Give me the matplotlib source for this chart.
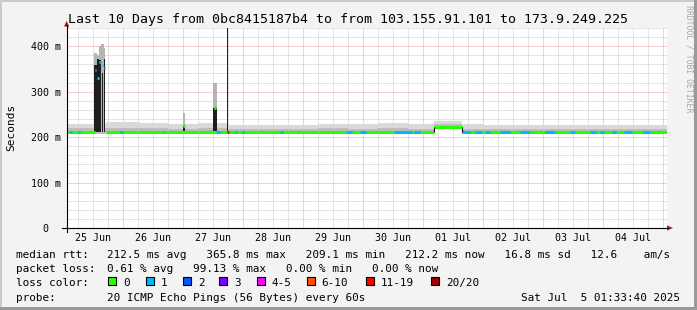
import matplotlib
matplotlib.use("Agg")
import matplotlib.pyplot as plt
from matplotlib.patches import Rectangle, Polygon
from matplotlib.lines import Line2D

W, H = 697, 310
FONT = "DejaVu Sans Mono"
NAN = float("nan")

# time axis: hours since 25 Jun 00:00
START_H = 1.5611    # Wed Jun 25 01:33:40
END_H = 241.5611    # Sat Jul  5 01:33:40

day_labels = ["25 Jun", "26 Jun", "27 Jun", "28 Jun", "29 Jun",
              "30 Jun", "01 Jul", "02 Jul", "03 Jul", "04 Jul"]
y_tick_values = [0, 100, 200, 300, 400]
y_tick_labels = ["0  ", "100 m", "200 m", "300 m", "400 m"]

# baseline median / smoke (ms), piecewise constant between seg_edges
seg_edges = [1.56, 12.9, 17.2, 30, 42, 54, 66, 78, 90, 102, 114, 126,
             138, 148.6, 159.6, 168, 180, 192, 204, 216, 228, 241.56]
seg_median = [210.5, NAN, 210.5, 210.5, 210.5, 210.5, 210.5, 210.5, 210.5, 210.5,
              210.5, 210.5, 210.5, 223.0, 210.5, 210.5, 210.5, 210.5, 210.5, 210.5, 210.5]
seg_lo = [206, 206, 206, 206, 206, 206, 206, 206, 206, 206,
          206, 206, 206, 219, 206, 206, 206, 206, 206, 206, 206]
seg_mid = [219, 219, 220, 219, 218, 219, 218, 217, 218, 219,
           218, 219, 218, 228, 218, 217, 218, 217, 218, 217, 218]
seg_hi = [229, 229, 233, 231, 228, 230, 227, 226, 227, 229,
          228, 230, 228, 236, 228, 226, 227, 226, 227, 226, 227]

# periods with 1/20 packet loss (hours)
loss1_start = [2.9, 6.1, 22.9, 40.1, 61.3, 68.9, 71.7, 86.9, 113.3, 118.9, 132.5,
               140.5, 159.7, 164.9, 168.9, 174.9, 182.9, 192.9, 202.9, 210.9,
               214.9, 219.7, 224.5, 232.3]
loss1_end = [3.7, 6.9, 24.1, 40.7, 62.9, 69.7, 72.5, 88.1, 115.7, 121.3, 139.7,
             142.9, 162.9, 167.7, 170.9, 178.9, 186.9, 196.9, 204.9, 213.3,
             216.5, 221.3, 227.7, 235.1]

# short latency spikes
spike_hour = [13.1, 14.2, 15.0, 15.9, 16.7, 48.5, 61.0, 66.1]
spike_width = [1.0, 0.9, 0.9, 0.9, 0.8, 0.6, 1.6, 0.4]
spike_dark_width = [1.0, 0.8, 0.6, 0.3, 0.5, 0.5, 1.4, 0.4]
spike_median = [347, 330, 365, 358, 352, 224, 264, 211]
spike_dark_top = [358, 372, 370, 340, 372, 224, 264, 480]
spike_smoke_top = [385, 380, 400, 405, 395, 253, 318, 215]
spike_loss = [1, 1, 1, 1, 1, 0, 0, 6]

loss_labels = ["0", "1", "2", "3", "4-5", "6-10", "11-19", "20/20"]
loss_colors = ["#26ff00", "#00b8ff", "#0059ff", "#7e00ff",
               "#ff00ff", "#ff5500", "#ff0000", "#a10000"]


def fx(x):
    return x / W


def fy(y):
    return 1 - y / H


fig = plt.figure(figsize=(W / 100, H / 100), dpi=100, facecolor="#f3f3f3")

# rrdtool style frame
frame = [((0, fy(2)), 1, 2 / H, "#cbcbcb"),
         ((0, 0), fx(2), 1, "#cbcbcb"),
         ((0, 0), 1, 3 / H, "#999999"),
         ((fx(694), 0), 3 / W, 1, "#999999")]
for xy, w, h, c in frame:
    fig.add_artist(Rectangle(xy, w, h, transform=fig.transFigure, color=c, lw=0, zorder=-5))

ax = fig.add_axes([fx(66.6), 1 - 228 / H, 600 / W, 200 / H])
ax.set_facecolor("white")
ax.set_xlim(START_H, END_H)
ax.set_ylim(0, 440)
for s in ax.spines.values():
    s.set_visible(False)

# grid
minor_kw = dict(color="#c8c8c8", lw=0.72, ls=(0, (1, 1)), zorder=1)
major_kw = dict(color="#f5a0a0", lw=0.72, ls=(0, (1, 1)), zorder=1)
for h in range(6, 242, 6):
    ax.axvline(h, **(major_kw if h % 24 == 0 else minor_kw))
for v in range(20, 441, 20):
    ax.axhline(v, **(major_kw if v % 100 == 0 else minor_kw))

# baseline smoke
ax.fill_between(seg_edges, seg_lo + seg_lo[-1:], seg_hi + seg_hi[-1:], step="post",
                color="#d9d9d9", lw=0, zorder=2)
ax.fill_between(seg_edges, seg_lo + seg_lo[-1:], seg_mid + seg_mid[-1:], step="post",
                color="#bdbdbd", lw=0, zorder=2)

# spikes
for h, w, dw, dtop, stop in zip(spike_hour, spike_width, spike_dark_width,
                                spike_dark_top, spike_smoke_top):
    ax.bar(h, stop - 215, bottom=215, width=w, color="#b4b4b4", lw=0, zorder=3)
    if dw > 0:
        ax.bar(h, dtop - 211, bottom=211, width=dw, color="#1e1e1e", lw=0, zorder=4)

# median line, coloured by loss
ax.hlines(seg_median, seg_edges[:-1], seg_edges[1:], colors=loss_colors[0], lw=2.2, zorder=5)
ax.vlines([seg_edges[13], seg_edges[14]], 210.5, 223, colors="black", lw=0.8, zorder=6)
for a, b in zip(loss1_start, loss1_end):
    i = max(i for i, e in enumerate(seg_edges[:-1]) if e <= a)
    ax.hlines(seg_median[i], a, b, colors=loss_colors[1], lw=2.2, zorder=5)
for h, w, med, ls in zip(spike_hour, spike_width, spike_median, spike_loss):
    ax.hlines(med, h - 0.3, h + 0.3, colors=loss_colors[ls], lw=2.2, zorder=6)

# ticks and labels
ax.set_xticks([12 + 24 * i for i in range(len(day_labels))])
ax.set_xticklabels(day_labels, fontfamily=FONT, fontsize=7.2)
ax.set_yticks(y_tick_values)
ax.set_yticklabels(y_tick_labels, fontfamily=FONT, fontsize=7.2)
ax.tick_params(axis="x", length=0, pad=3.6)
ax.tick_params(axis="y", length=0, pad=4.3)

# axes with arrows
fig.add_artist(Line2D([fx(62), fx(668)], [fy(228), fy(228)], transform=fig.transFigure, color="black", lw=0.8))
fig.add_artist(Line2D([fx(66.6), fx(66.6)], [fy(232), fy(25)], transform=fig.transFigure, color="black", lw=0.8))
fig.add_artist(Polygon([(fx(667), fy(225.5)), (fx(673), fy(228)), (fx(667), fy(230.5))],
                       transform=fig.transFigure, color="#a01818", lw=0))
fig.add_artist(Polygon([(fx(64), fy(26.5)), (fx(66.6), fy(21)), (fx(69.2), fy(26.5))],
                       transform=fig.transFigure, color="#a01818", lw=0))

# title and side texts
fig.text(fx(68.3), fy(23), "Last 10 Days from 0bc8415187b4 to from 103.155.91.101 to 173.9.249.225",
         fontfamily=FONT, fontsize=9.5, va="baseline", ha="left")
fig.text(fx(11), fy(127.5), "Seconds", fontfamily=FONT, fontsize=8, rotation=90, va="center", ha="center")
fig.text(fx(688.5), fy(5), "RRDTOOL / TOBI OETIKER", fontfamily=FONT, fontsize=5.9,
         rotation=270, va="top", ha="center", color="#a8a8a8")

# legend rows
leg_kw = dict(fontfamily=FONT, fontsize=7.9, va="baseline", ha="left")
fig.text(fx(16), fy(258), "median rtt:", **leg_kw)
fig.text(fx(107.3), fy(258),
         "212.5 ms avg   365.8 ms max   209.1 ms min   212.2 ms now   16.8 ms sd   12.6    am/s", **leg_kw)
fig.text(fx(16), fy(272.4), "packet loss:", **leg_kw)
fig.text(fx(107.3), fy(272.4), "0.61 % avg   99.13 % max   0.00 % min   0.00 % now", **leg_kw)
fig.text(fx(16), fy(286.3), "loss color:", **leg_kw)
box_x = [108.3, 145.7, 182.7, 219.3, 256.7, 306.7, 365.7, 430.7]
for x, lab, col in zip(box_x, loss_labels, loss_colors):
    fig.add_artist(Rectangle((fx(x), fy(284.5)), 8 / W, 8 / H, transform=fig.transFigure,
                             facecolor=col, edgecolor="black", lw=0.8))
    fig.text(fx(x + 15), fy(286.3), lab, **leg_kw)
fig.text(fx(16), fy(300.7), "probe:", **leg_kw)
fig.text(fx(107.3), fy(300.7), "20 ICMP Echo Pings (56 Bytes) every 60s", **leg_kw)
fig.text(fx(680), fy(300.7), "Sat Jul  5 01:33:40 2025", fontfamily=FONT, fontsize=7.9,
         va="baseline", ha="right")

fig.savefig("out.png", dpi=100, facecolor=fig.get_facecolor())
